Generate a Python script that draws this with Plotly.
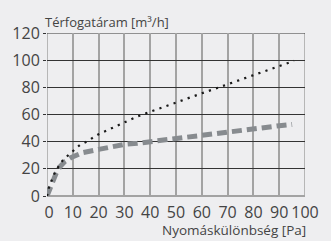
import plotly.graph_objects as go

# Dotted (black) series
dot_x = [0, 0.7, 1.7, 2.9, 4.4, 6, 8.2, 10.7, 12.7, 15.3, 20, 25, 30, 35, 40, 45, 50, 55, 60, 65, 70, 75, 80, 85, 90, 95.7]
dot_y = [0, 6, 11, 16.5, 21.5, 26, 30, 34, 37.5, 40, 45.5, 49.8, 54.4, 58.5, 62, 65.5, 69, 72.2, 75.6, 78.9, 82.3, 85.5, 89, 92.5, 96, 99.5]

# Dashed (gray) series
dash_x = [0, 1, 2, 3.5, 5, 7, 9.4, 14, 20, 25, 30, 35, 40, 45, 50, 55, 60, 65, 70, 75, 80, 85, 90, 95]
dash_y = [0, 5, 10.5, 16.5, 21.5, 25.5, 28.4, 32, 34.3, 36.3, 38, 38.8, 40, 41.4, 42.9, 44.2, 45.2, 46.2, 47.5, 48.5, 49.6, 50.6, 51.7, 52.7]

x_ticks = [0, 10, 20, 30, 40, 50, 60, 70, 80, 90, 100]
x_tick_labels = ["0", "10", "20", "30", "40", "50", "60", "70", "80", "90", "100"]
y_ticks = [0, 20, 40, 60, 80, 100, 120]

y_title = "Térfogatáram [m³/h]"
x_title = "Nyomáskülönbség [Pa]"

BG = "#eeeef0"
TXT = "#444444"
GRID_V = "#a3a3a3"
GRID_H = "#333333"

fig = go.Figure()
fig.add_trace(go.Scatter(x=dash_x, y=dash_y, mode="lines",
                         line=dict(color="#878b8f", width=5, dash="10px,5px"),
                         hoverinfo="skip", showlegend=False))
fig.add_trace(go.Scatter(x=dot_x, y=dot_y, mode="lines",
                         line=dict(color="#1a1a1a", width=2.2, dash="2.2px,5.3px"),
                         hoverinfo="skip", showlegend=False))

shown_x_labels = ["\u00a0" + t if t == "0" else t for t in x_tick_labels]

fig.update_layout(
    width=331, height=241,
    margin=dict(l=41, r=18, t=33, b=45),
    paper_bgcolor=BG, plot_bgcolor=BG,
    font=dict(family="Open Sans", color=TXT),
    xaxis=dict(range=[0, 100], tickvals=x_ticks, ticktext=shown_x_labels,
               showgrid=True, gridcolor=GRID_V, gridwidth=1.5,
               zeroline=False, showline=False, ticks="", ticklabelstandoff=5,
               tickfont=dict(size=16, color=TXT), fixedrange=True),
    yaxis=dict(range=[0, 120], tickvals=y_ticks,
               showgrid=True, gridcolor=GRID_H, gridwidth=1,
               zeroline=True, zerolinecolor=GRID_V, zerolinewidth=1.5,
               showline=False, ticks="outside", ticklen=3, tickcolor=GRID_H, tickwidth=1,
               tickfont=dict(size=16, color=TXT), fixedrange=True),
    shapes=[
        dict(type="line", xref="x", yref="y", x0=0, x1=0, y0=0, y1=120,
             line=dict(color=GRID_V, width=1.5), layer="below"),
        dict(type="line", xref="x", yref="y", x0=100, x1=100, y0=0, y1=120,
             line=dict(color=GRID_V, width=1.5), layer="below"),
        dict(type="line", xref="x", yref="y", x0=0, x1=100, y0=120, y1=120,
             line=dict(color=GRID_H, width=1), layer="below"),
    ],
    annotations=[
        dict(text=y_title, xref="paper", yref="paper", x=0, y=1,
             xanchor="left", yanchor="bottom", showarrow=False, yshift=0, xshift=-4,
             font=dict(size=13, color=TXT)),
        dict(text=x_title, xref="paper", yref="paper", x=1, y=0,
             xanchor="right", yanchor="top", showarrow=False, xshift=3, yshift=-23,
             font=dict(size=13.5, color=TXT)),
    ],
)

fig.write_html("out.html", config={"displayModeBar": False},
               post_script="document.body.style.margin='0';document.body.style.background='#eeeef0';")
